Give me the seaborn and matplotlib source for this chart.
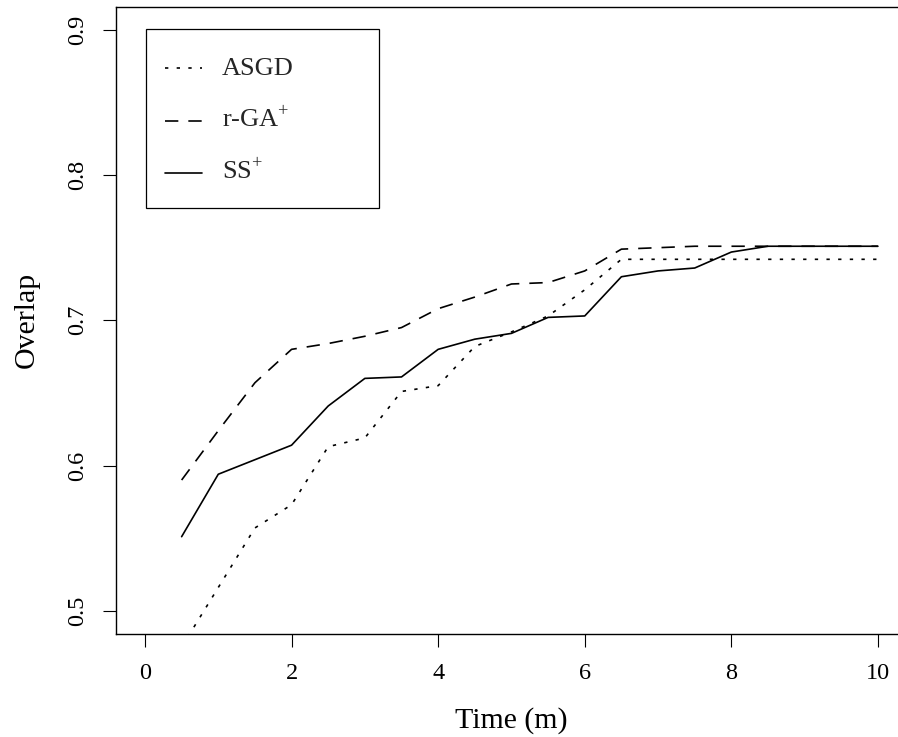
import numpy as np
import pandas as pd
import matplotlib
matplotlib.use("Agg")
import matplotlib.pyplot as plt
import seaborn as sns

# Data
tempo = [0.5, 1, 1.5, 2, 2.5, 3, 3.5, 4, 4.5, 5,
         5.5, 6, 6.5, 7, 7.5, 8, 8.5, 9, 9.5, 10]
asgd = [0.475, 0.516, 0.557, 0.573, 0.613, 0.619, 0.651, 0.655, 0.682, 0.692,
        0.703, 0.721, 0.742, 0.742, 0.742, 0.742, 0.742, 0.742, 0.742, 0.742]
rga = [0.590, 0.624, 0.657, 0.680, 0.684, 0.689, 0.695, 0.708, 0.716, 0.725,
       0.726, 0.734, 0.749, 0.750, 0.751, 0.751, 0.751, 0.751, 0.751, 0.751]
ss = [0.551, 0.594, 0.604, 0.614, 0.641, 0.660, 0.661, 0.680, 0.687, 0.691,
      0.702, 0.703, 0.730, 0.734, 0.736, 0.747, 0.751, 0.751, 0.751, 0.751]
metodos = ["ASGD", "r-GA+", "SS+"]
rotulos = ["ASGD", r"r-GA$^{\mathregular{+}}$", r"SS$^{\mathregular{+}}$"]
x_ticks = [0, 2, 4, 6, 8, 10]
y_ticks = [0.5, 0.6, 0.7, 0.8, 0.9]

df = pd.DataFrame({
    "Time": tempo * 3,
    "Overlap": asgd + rga + ss,
    "Method": [m for m in metodos for _ in tempo],
})

sns.set_theme(style="ticks")
plt.rcParams["font.family"] = ["Liberation Serif", "DejaVu Serif"]
plt.rcParams["mathtext.fontset"] = "custom"
plt.rcParams["mathtext.rm"] = "Liberation Serif"

fig = plt.figure(figsize=(8.98, 7.37), dpi=100)
ax = fig.add_axes([0.1288, 0.1398, 0.8815, 0.8512])

sns.lineplot(data=df, x="Time", y="Overlap", hue="Method", style="Method",
             palette={m: "black" for m in metodos},
             dashes={"ASGD": (2, 5), "r-GA+": (8, 6), "SS+": ""},
             linewidth=1.2, legend=False, ax=ax)

ax.set_xlim(-0.4, 10.4)
ax.set_ylim(0.484, 0.916)
ax.set_xticks(x_ticks)
ax.set_xticklabels([str(t) for t in x_ticks])
ax.set_yticks(y_ticks)
ax.set_yticklabels([f"{t:.1f}" for t in y_ticks])

for s in ax.spines.values():
    s.set_color("black")
    s.set_linewidth(1.0)
ax.spines["right"].set_visible(False)
ax.tick_params(axis="x", length=9.4, width=0.8, color="black", pad=11.5,
               labelsize=17.5, labelcolor="black")
ax.tick_params(axis="y", length=9.4, width=0.8, color="black", pad=10.5,
               labelsize=17.5, labelcolor="black", labelrotation=90)
for lab in ax.get_yticklabels():
    lab.set_va("center")

ax.set_xlabel("Time (m)", fontsize=21.5, color="black")
ax.set_ylabel("Overlap", fontsize=21.5, color="black")
ax.xaxis.label.set_va("baseline")
ax.xaxis.set_label_coords(0.5, -0.1494)
ax.yaxis.label.set_va("baseline")
ax.yaxis.set_label_coords(-0.1036, 0.5)

leg = ax.legend(ax.lines[:3], rotulos, loc="upper left",
                bbox_to_anchor=(0.0383, 0.6791, 0.2943, 0.2854),
                mode="expand", borderaxespad=0, fontsize=19,
                handlelength=1.4, handletextpad=0.75, labelspacing=0.6,
                handleheight=1.75, borderpad=0.72, fancybox=False,
                framealpha=1, edgecolor="black")
leg.get_frame().set_linewidth(0.9)
# bring the sample lines down level with the text
for ln in leg.get_lines():
    ln.set_ydata(np.asarray(ln.get_ydata()) - 5)

fig.savefig("out.png", dpi=100)
